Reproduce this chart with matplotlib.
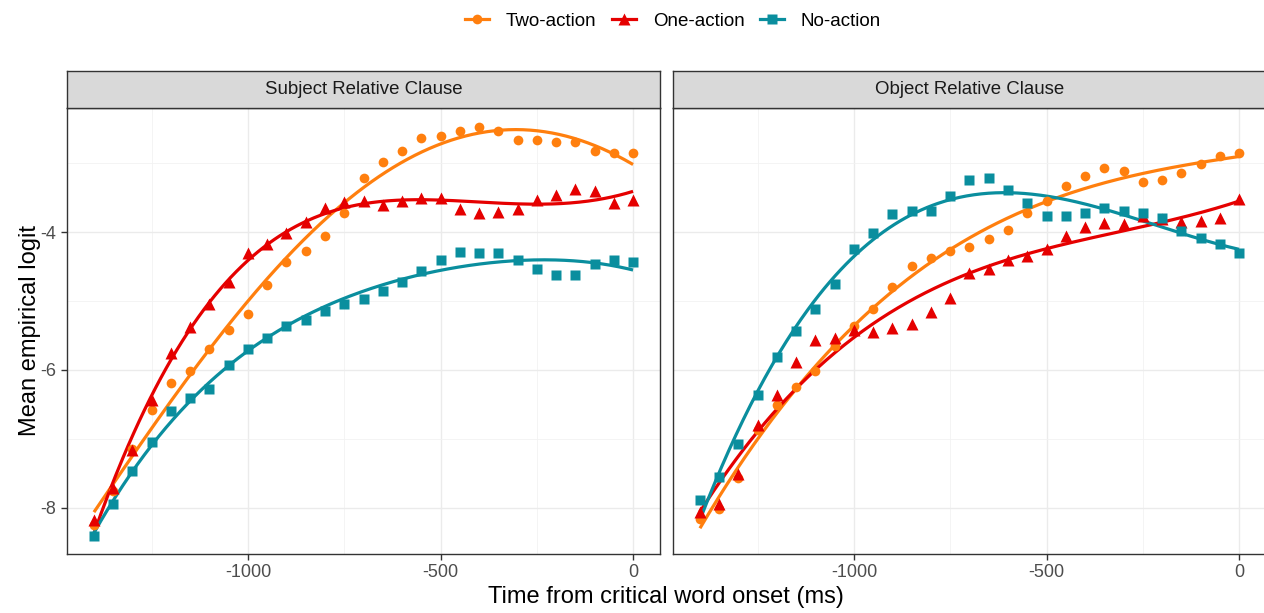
import matplotlib
matplotlib.use("Agg")

import matplotlib.pyplot as plt
from matplotlib.lines import Line2D
import numpy as np

plt.rcParams['font.family'] = ['Liberation Sans', 'DejaVu Sans']
plt.rcParams['axes.unicode_minus'] = False

# time bins (ms from critical word onset)
time = list(range(-1400, 1, 50))

# Subject Relative Clause
src_two = [-8.25, -7.75, -7.15, -6.58, -6.19, -6.01, -5.69, -5.42, -5.19, -4.77,
           -4.43, -4.28, -4.06, -3.72, -3.22, -2.98, -2.83, -2.63, -2.60, -2.54,
           -2.48, -2.53, -2.67, -2.66, -2.69, -2.70, -2.83, -2.85, -2.86]
src_one = [-8.17, -7.71, -7.16, -6.44, -5.76, -5.38, -5.05, -4.72, -4.31, -4.18,
           -4.01, -3.85, -3.65, -3.56, -3.55, -3.60, -3.55, -3.51, -3.51, -3.66,
           -3.72, -3.71, -3.66, -3.54, -3.46, -3.37, -3.40, -3.58, -3.53]
src_no = [-8.41, -7.95, -7.46, -7.04, -6.60, -6.40, -6.27, -5.93, -5.69, -5.53,
          -5.36, -5.27, -5.15, -5.04, -4.97, -4.86, -4.72, -4.56, -4.41, -4.29,
          -4.31, -4.30, -4.40, -4.53, -4.62, -4.62, -4.47, -4.41, -4.44]

# Object Relative Clause
orc_two = [-8.16, -8.01, -7.57, -6.87, -6.51, -6.25, -6.02, -5.65, -5.36, -5.11,
           -4.79, -4.49, -4.38, -4.28, -4.21, -4.10, -3.97, -3.72, -3.55, -3.33,
           -3.19, -3.07, -3.12, -3.27, -3.24, -3.15, -3.01, -2.90, -2.86]
orc_one = [-8.06, -7.94, -7.51, -6.80, -6.36, -5.88, -5.57, -5.53, -5.42, -5.45,
           -5.39, -5.33, -5.16, -4.95, -4.60, -4.53, -4.40, -4.34, -4.24, -4.06,
           -3.92, -3.87, -3.88, -3.77, -3.81, -3.86, -3.84, -3.79, -3.52]
orc_no = [-7.89, -7.56, -7.08, -6.36, -5.81, -5.43, -5.11, -4.75, -4.25, -4.01,
          -3.74, -3.70, -3.69, -3.48, -3.25, -3.22, -3.39, -3.58, -3.77, -3.77,
          -3.73, -3.65, -3.69, -3.73, -3.79, -3.99, -4.09, -4.18, -4.31]

panels = ["Subject Relative Clause", "Object Relative Clause"]
conditions = ["Two-action", "One-action", "No-action"]
colors = ["#FF7F0E", "#E50000", "#0A8E9E"]
markers = ["o", "^", "s"]
msizes = [7, 8, 7]
data = [[src_two, src_one, src_no], [orc_two, orc_one, orc_no]]
# polynomial order of the fitted curve per panel
fit_order = [4, 3]

W, H = 1264, 613
def rect(x0, y0, x1, y1):
    return [x0 / W, 1 - y1 / H, (x1 - x0) / W, (y1 - y0) / H]

fig = plt.figure(figsize=(W / 100, H / 100), dpi=100)

t = np.array(time, dtype=float)
tt = np.linspace(-1400, 0, 300)
lefts = [(67, 660), (673, 1266)]

for i, (x0, x1) in enumerate(lefts):
    ax = fig.add_axes(rect(x0, 108, x1, 554))
    for j in range(3):
        y = np.array(data[i][j])
        coef = np.polyfit(t / 1000, y, fit_order[i])
        ax.plot(tt, np.polyval(coef, tt / 1000), color=colors[j], lw=2.3,
                solid_capstyle='butt', zorder=3)
        ax.plot(t, y, linestyle='none', marker=markers[j], ms=msizes[j],
                color=colors[j], mec='none', zorder=4)
    ax.set_xlim(-1470, 70)
    ax.set_ylim(-8.67, -2.20)
    ax.set_xticks([-1000, -500, 0])
    ax.set_xticks([-1250, -750, -250], minor=True)
    ax.set_yticks([-8, -6, -4])
    ax.set_yticks([-7, -5, -3], minor=True)
    ax.grid(True, which='major', color='#EBEBEB', lw=1.0, zorder=0)
    ax.grid(True, which='minor', color='#F2F2F2', lw=0.6, zorder=0)
    ax.set_axisbelow(True)
    for s in ax.spines.values():
        s.set_color('#333333')
        s.set_linewidth(1.0)
    ax.tick_params(which='minor', length=0)
    ax.tick_params(which='major', length=4, width=1, color='#333333',
                   labelcolor='#4D4D4D', labelsize=13)
    if i == 1:
        ax.tick_params(axis='y', which='both', left=False, labelleft=False)

    strip = fig.add_axes(rect(x0, 71, x1, 108))
    strip.set_facecolor('#D9D9D9')
    strip.set_xticks([])
    strip.set_yticks([])
    for s in strip.spines.values():
        s.set_color('#333333')
        s.set_linewidth(1.0)
    strip.text(0.5, 0.5, panels[i], ha='center', va='center', fontsize=13.4,
               color='#1A1A1A', transform=strip.transAxes)

fig.text(30 / W, 1 - 331 / H, "Mean empirical logit", rotation=90,
         ha='center', va='center', fontsize=17)
fig.text(666 / W, 1 - 597 / H, "Time from critical word onset (ms)",
         ha='center', va='center', fontsize=17)

handles = [Line2D([0], [0], color=colors[j], lw=2.3, marker=markers[j],
                  ms=msizes[j], mec='none') for j in range(3)]
fig.legend(handles, conditions, loc='center', bbox_to_anchor=(673 / W, 1 - 21 / H),
           ncol=3, frameon=False, fontsize=13.5, handlelength=1.3,
           columnspacing=0.8, handletextpad=0.9)

plt.savefig("out.png", dpi=100)
